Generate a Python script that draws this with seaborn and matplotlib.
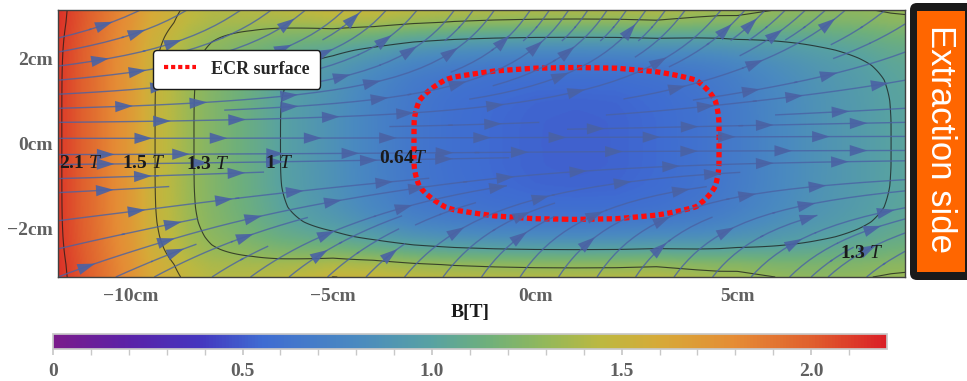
import numpy as np
import matplotlib
matplotlib.use("Agg")
import matplotlib.pyplot as plt
import seaborn as sns
from matplotlib.colors import LinearSegmentedColormap
from matplotlib.lines import Line2D
from matplotlib.patches import FancyBboxPatch, FancyArrowPatch

# ---- data ----
# on-axis |B| (T) along the chamber, z in cm
z_knots = [-11.8, -11, -10, -9.5, -9, -8.5, -8, -7, -6.3, -5, -4, -3, -2, -1,
           0, 1, 2, 3, 4, 4.55, 5, 6, 7, 8, 8.8, 9.2]
b_axis = [2.12, 1.95, 1.7, 1.52, 1.42, 1.31, 1.23, 1.1, 1.0, 0.86, 0.74, 0.64,
          0.58, 0.545, 0.525, 0.52, 0.525, 0.55, 0.60, 0.64, 0.68, 0.78, 0.87,
          0.94, 1.0, 1.02]
# how strongly the radial (hexapole) part shows up along z
radial_weight = [0.25, 0.3, 0.35, 0.4, 0.45, 0.5, 0.55, 0.7, 0.8, 0.95, 1.0,
                 1.0, 1.0, 1.0, 1.0, 1.0, 1.0, 1.0, 0.95, 0.92, 0.9, 0.8,
                 0.72, 0.68, 0.66, 0.65]
# radial contribution (T) vs transverse position r (cm)
r_knots = [-3.2, -2.85, -2.5, -2.2, -1.85, -1.5, -1, -0.5, 0,
           0.5, 1, 1.5, 1.85, 2.2, 2.5, 2.85, 3.2]
b_radial = [1.32, 1.15, 0.85, 0.62, 0.4, 0.24, 0.1, 0.02, 0.0,
            0.02, 0.1, 0.24, 0.4, 0.62, 0.85, 1.15, 1.32]
stream_tilt = 0.078  # transverse field share ~ r^2

contour_levels = [1.0, 1.3, 1.5, 2.1]
ecr_level = 0.64

contour_labels = [r"$\mathbf{2.1}\ \mathit{T}$", r"$\mathbf{1.5}\ \mathit{T}$",
                  r"$\mathbf{1.3}\ \mathit{T}$", r"$\mathbf{1}\ \mathit{T}$",
                  r"$\mathbf{0.64}\mathit{T}$", r"$\mathbf{1.3}\ \mathit{T}$"]
label_z = [-11.24, -9.68, -8.11, -6.32, -3.26, 8.06]
label_r = [-0.47, -0.47, -0.5, -0.47, -0.35, -2.59]

xticks = [-10, -5, 0, 5]
xtick_labels = ["\u221210cm", "\u22125cm", "0cm", "5cm"]
yticks = [-2, 0, 2]
ytick_labels = ["\u22122cm", "0cm", "2cm"]
cbar_ticks = [0, 0.5, 1.0, 1.5, 2.0]
cbar_labels = ["0", "0.5", "1.0", "1.5", "2.0"]

# ---- style ----
sns.set_theme(style="white")
plt.rcParams["font.family"] = ["Liberation Serif", "DejaVu Serif"]
plt.rcParams["mathtext.fontset"] = "custom"
plt.rcParams["mathtext.rm"] = "Liberation Serif"
plt.rcParams["mathtext.it"] = "Liberation Serif:italic"
plt.rcParams["mathtext.bf"] = "Liberation Serif:bold"

vmax = 2.2
anchors = [(0.0, "#7a1b8b"), (0.2, "#5a22a8"), (0.38, "#4535be"), (0.55, "#3f6cd2"),
           (0.8, "#4a8ac0"), (1.0, "#58a2a2"), (1.15, "#6fb07a"), (1.3, "#93b85a"),
           (1.45, "#bdb840"), (1.6, "#d6aa38"), (1.8, "#e58c35"), (2.0, "#e0602e"),
           (2.2, "#da1f26")]
cmap = LinearSegmentedColormap.from_list("rainbow_b", [(p / vmax, c) for p, c in anchors])
stream_color = "#4a62a4"

# ---- field on a mesh ----
zmin, zmax, rmin, rmax = -11.8, 9.15, -3.15, 3.15
zg = np.linspace(zmin, zmax, 700)
rg = np.linspace(rmin, rmax, 260)
Z, R = np.meshgrid(zg, rg)
bax = np.interp(zg, z_knots, b_axis)
w = np.interp(zg, z_knots, radial_weight)
brad = np.interp(rg, r_knots, b_radial)
B = np.sqrt(bax[None, :] ** 2 + (w[None, :] * brad[:, None]) ** 2)

zs = np.linspace(zmin, zmax, 140)
rs = np.linspace(rmin, rmax, 60)
ZS, RS = np.meshgrid(zs, rs)
U = np.broadcast_to(np.interp(zs, z_knots, b_axis)[None, :], ZS.shape).copy()
V = stream_tilt * RS ** 2

# ---- figure ----
fig = plt.figure(figsize=(9.67, 3.81), dpi=100)
ax = fig.add_axes([0.06, 0.273, 0.876, 0.701])
cax = fig.add_axes([0.0548, 0.084, 0.8625, 0.039])
ax.set_xlim(zmin, zmax)
ax.set_ylim(rmin, rmax)

im = ax.imshow(B, extent=(zmin, zmax, rmin, rmax), origin="lower", cmap=cmap,
               vmin=0, vmax=vmax, aspect="auto", interpolation="bilinear")
ax.contour(Z, R, B, levels=contour_levels, colors="k", linewidths=0.8, alpha=0.75)
ax.contour(Z, R, B, levels=[ecr_level], colors="#ff0d0d", linewidths=3.8,
           linestyles=[(0, (1.0, 0.65))])
sp = ax.streamplot(ZS, RS, U, V, density=(1.5, 0.68), color=stream_color,
                   linewidth=1.0, arrowstyle="-")
sp.lines.set_alpha(0.8)

# arrowheads along each streamline, every ~85 px
spacing = 85.0
for i, tr in enumerate(sp.lines.get_segments()):
    tr = np.asarray(tr)
    if len(tr) < 3:
        continue
    d = ax.transData.transform(tr)
    L = np.concatenate([[0], np.cumsum(np.hypot(*np.diff(d, axis=0).T))])
    start = 30 + (i * 37) % spacing
    for s_at in np.arange(start, L[-1] - 10, spacing):
        k = int(np.clip(np.searchsorted(L, s_at), 1, len(tr) - 1))
        ax.add_patch(FancyArrowPatch(tr[k - 1], tr[k],
                                     arrowstyle="-|>,head_length=0.85,head_width=0.27",
                                     mutation_scale=15, color=stream_color, lw=0,
                                     alpha=0.9, shrinkA=0, shrinkB=0, zorder=3))

for txt, zz, rr in zip(contour_labels, label_z, label_r):
    ax.text(zz, rr, txt, fontsize=14, ha="center", va="center", color="k", zorder=4)

ax.set_xticks(xticks)
ax.set_xticklabels(xtick_labels)
ax.set_yticks(yticks)
ax.set_yticklabels(ytick_labels)
ax.tick_params(length=0, labelsize=14, labelcolor="#606060")
ax.tick_params(axis="x", pad=8)
ax.tick_params(axis="y", pad=4)
for t in ax.get_xticklabels() + ax.get_yticklabels():
    t.set_fontweight("bold")
for s in ax.spines.values():
    s.set_color("#404040")
    s.set_linewidth(1.0)

proxy = Line2D([], [], color="#ff0d0d", lw=3, ls=(0, (1.0, 0.7)))
leg = ax.legend([proxy], ["ECR surface"], loc="upper left",
                bbox_to_anchor=(0.1015, 0.884), frameon=True, fancybox=True,
                framealpha=1, edgecolor="k", handlelength=1.8, borderpad=0.6,
                prop={"weight": "bold", "size": 13})
leg.get_frame().set_linewidth(1.0)
leg.set_zorder(6)

cb = fig.colorbar(im, cax=cax, orientation="horizontal", ticks=cbar_ticks)
cb.ax.set_xticklabels(cbar_labels)
cb.ax.set_xticks(np.arange(0, 2.15, 0.1), minor=True)
cb.ax.tick_params(which="both", direction="out", length=4, color="#c8c8c8",
                  labelsize=14, labelcolor="#606060", pad=6)
for t in cb.ax.get_xticklabels():
    t.set_fontweight("bold")
cb.outline.set_edgecolor("#c8c8c8")

fig.text(470 / 967, 1 - 312 / 381, "B[T]", fontsize=14, fontweight="bold",
         ha="center", va="center", color="k")

# extraction side tag
fig.patches.append(FancyBboxPatch((9.10, 1.01), 0.70, 2.77,
                                  boxstyle="round,pad=0,rounding_size=0.07",
                                  facecolor="k", edgecolor="none",
                                  transform=fig.dpi_scale_trans, figure=fig))
fig.patches.append(FancyBboxPatch((9.17, 1.09), 0.48, 2.61,
                                  boxstyle="square,pad=0", facecolor="#ff6600",
                                  edgecolor="none", transform=fig.dpi_scale_trans,
                                  figure=fig))
fig.text(9.405, 2.42, "Extraction side", rotation=-90, fontsize=25, color="white",
         ha="center", va="center", family="Liberation Sans",
         transform=fig.dpi_scale_trans)

fig.savefig("out.png", dpi=100)
